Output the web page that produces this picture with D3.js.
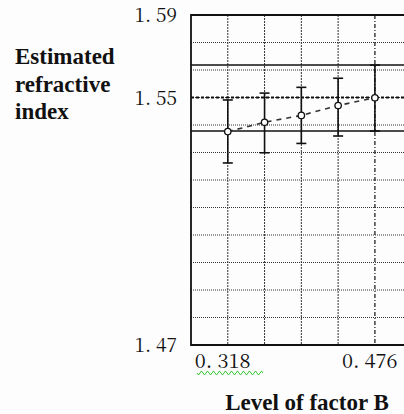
<!DOCTYPE html>
<html>
<head>
<meta charset="utf-8">
<script src="https://cdn.jsdelivr.net/npm/d3@7"></script>
<style>
  body { margin: 0; background: #fdfdfd; }
  svg { display: block; }
</style>
</head>
<body>
<script>
// levels of factor B and the estimated refractive index at each
var levels = [0.318, 0.3575, 0.397, 0.4365, 0.476]
var means  = [1.5476, 1.5510, 1.5535, 1.5571, 1.5599]
var lower  = [1.5362, 1.5399, 1.5433, 1.5460, 1.5478]
var upper  = [1.5591, 1.5616, 1.5637, 1.5670, 1.5718]

// marker lines
var markerUpper = 1.5718
var markerMean = 1.56
var markerLower = 1.5478
var markerX = 0.476

// tick labels as printed
var yTickValues = [1.59, 1.56, 1.47]
var yTickLabels = ["1. 59", "1. 55", "1. 47"]
var xTickValues = [0.318, 0.476]
var xTickLabels = ["0. 318", "0. 476"]

var tickFont = "'Noto Serif CJK JP'"
var titleFont = "'Liberation Serif'"

var width = 404, height = 414

var svg = d3.select("body").append("svg")
    .attr("width", width)
    .attr("height", height)

var xScale = d3.scaleLinear().domain([0.2785, 0.5545]).range([191, 448])
var yScale = d3.scaleLinear().domain([1.47, 1.59]).range([345, 15])

var xStep = 0.0395
var xGrid = d3.range(1, 7).map(function(i) { return 0.2785 + i * xStep })
var yGrid = d3.range(1, 12).map(function(i) { return 1.47 + i * 0.01 })

var plot = svg.append("g")

// dotted grid
plot.selectAll(".hgrid").data(yGrid).enter().append("line")
    .attr("x1", xScale.range()[0]).attr("x2", xScale.range()[1])
    .attr("y1", function(d) { return yScale(d) })
    .attr("y2", function(d) { return yScale(d) })
    .attr("stroke", "#333").attr("stroke-width", 1)
    .attr("stroke-dasharray", "1,1")

plot.selectAll(".vgrid").data(xGrid.filter(function(d) { return Math.abs(d - markerX) > 0.001 }))
    .enter().append("line")
    .attr("x1", function(d) { return xScale(d) })
    .attr("x2", function(d) { return xScale(d) })
    .attr("y1", yScale(1.59)).attr("y2", yScale(1.47))
    .attr("stroke", "#333").attr("stroke-width", 1)
    .attr("stroke-dasharray", "2,1")

// vertical marker (dash-dot)
plot.append("line")
    .attr("x1", xScale(markerX)).attr("x2", xScale(markerX))
    .attr("y1", yScale(1.59)).attr("y2", yScale(1.47))
    .attr("stroke", "#222").attr("stroke-width", 1.3)
    .attr("stroke-dasharray", "4,2,1,2")

// horizontal markers
plot.selectAll(".mk").data([markerUpper, markerLower]).enter().append("line")
    .attr("x1", xScale.range()[0]).attr("x2", xScale.range()[1])
    .attr("y1", function(d) { return yScale(d) })
    .attr("y2", function(d) { return yScale(d) })
    .attr("stroke", "#111").attr("stroke-width", 1.6)

plot.append("line")
    .attr("x1", xScale.range()[0]).attr("x2", xScale.range()[1])
    .attr("y1", yScale(markerMean)).attr("y2", yScale(markerMean))
    .attr("stroke", "#111").attr("stroke-width", 2.2)
    .attr("stroke-dasharray", "3,2")

// frame
plot.append("path")
    .attr("d", "M" + xScale.range()[1] + "," + yScale(1.59) +
               "H" + xScale.range()[0] + "V" + yScale(1.47) + "H" + xScale.range()[1])
    .attr("fill", "none").attr("stroke", "#111").attr("stroke-width", 1.8)

// dashed line through the means
var line = d3.line()
    .x(function(d, i) { return xScale(levels[i]) })
    .y(function(d) { return yScale(d) })

plot.append("path")
    .datum(means)
    .attr("d", line)
    .attr("fill", "none")
    .attr("stroke", "#333").attr("stroke-width", 1.6)
    .attr("stroke-dasharray", "5,5")

// error bars
var bars = plot.selectAll(".err").data(levels).enter().append("g")
bars.append("line")
    .attr("x1", function(d) { return xScale(d) })
    .attr("x2", function(d) { return xScale(d) })
    .attr("y1", function(d, i) { return yScale(lower[i]) })
    .attr("y2", function(d, i) { return yScale(upper[i]) })
    .attr("stroke", "#111").attr("stroke-width", 1.6)
bars.append("line")
    .attr("x1", function(d) { return xScale(d) - 5 })
    .attr("x2", function(d) { return xScale(d) + 5 })
    .attr("y1", function(d, i) { return yScale(lower[i]) })
    .attr("y2", function(d, i) { return yScale(lower[i]) })
    .attr("stroke", "#111").attr("stroke-width", 1.6)
bars.append("line")
    .attr("x1", function(d) { return xScale(d) - 5 })
    .attr("x2", function(d) { return xScale(d) + 5 })
    .attr("y1", function(d, i) { return yScale(upper[i]) })
    .attr("y2", function(d, i) { return yScale(upper[i]) })
    .attr("stroke", "#111").attr("stroke-width", 1.6)
bars.append("circle")
    .attr("cx", function(d) { return xScale(d) })
    .attr("cy", function(d, i) { return yScale(means[i]) })
    .attr("r", 3.2)
    .attr("fill", "#fdfdfd").attr("stroke", "#111").attr("stroke-width", 1.3)

// tick labels
svg.selectAll(".ylab").data(yTickValues).enter().append("text")
    .attr("x", 177)
    .attr("y", function(d) { return yScale(d) + 7 })
    .attr("text-anchor", "end")
    .style("font-family", tickFont)
    .style("font-size", "19px")
    .attr("fill", "#111")
    .text(function(d, i) { return yTickLabels[i] })

svg.selectAll(".xlab").data(xTickValues).enter().append("text")
    .attr("x", function(d) { return xScale(d) - 33 })
    .attr("y", 368)
    .style("font-family", tickFont)
    .style("font-size", "20px")
    .attr("fill", "#111")
    .text(function(d, i) { return xTickLabels[i] })

// green squiggle under the first x label
var sq = "M197,373"
for (var k = 0; k < 22; k++) sq += "l1.5," + (k % 2 ? -2 : 2) + "l1.5," + (k % 2 ? 2 : -2)
svg.append("path").attr("d", sq).attr("fill", "none")
    .attr("stroke", "#3c3").attr("stroke-width", 1)

// axis titles
svg.selectAll(".ytitle").data(["Estimated", "refractive", "index"]).enter().append("text")
    .attr("x", 15)
    .attr("y", function(d, i) { return 64 + i * 27.5 })
    .style("font-family", titleFont)
    .style("font-weight", "bold").style("font-size", "23px").attr("fill", "#111")
    .text(function(d) { return d })

svg.append("text")
    .attr("x", 307).attr("y", 410)
    .attr("text-anchor", "middle")
    .style("font-family", titleFont)
    .style("font-weight", "bold").style("font-size", "23px").attr("fill", "#111")
    .text("Level of factor B")
</script>
</body>
</html>
